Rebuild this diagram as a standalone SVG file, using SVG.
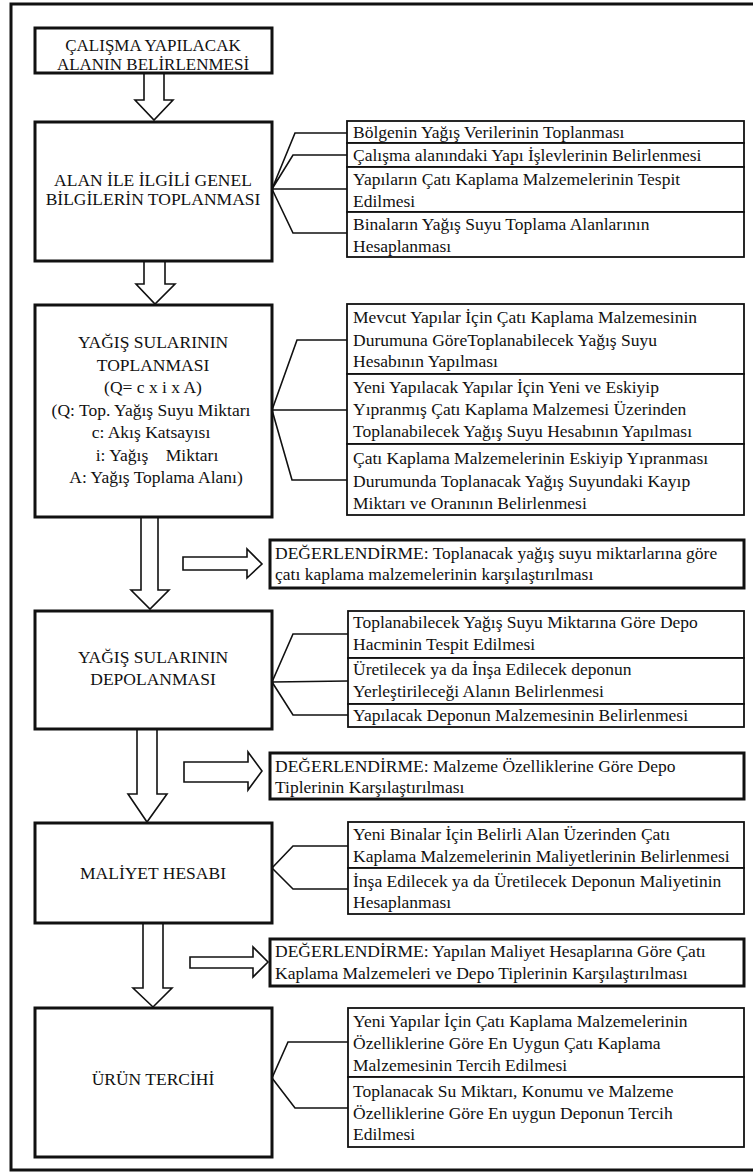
<svg xmlns="http://www.w3.org/2000/svg" width="753" height="1173" viewBox="0 0 753 1173">
<style>
text{font-family:"Liberation Serif","Times New Roman",serif;font-size:17.5px;fill:#111}
.c{text-anchor:middle}
.t1{font-size:17px}
.main{fill:#fff;stroke:#111;stroke-width:3}
.sub{fill:#fff;stroke:#111;stroke-width:1.8}
.eval{fill:#fff;stroke:#111;stroke-width:3}
.arrow{fill:#fff;stroke:#111;stroke-width:1.6;stroke-linejoin:miter}
.conn{fill:none;stroke:#111;stroke-width:1.6}
.frame{fill:none;stroke:#111;stroke-width:3}
</style>
<rect class="frame" x="11" y="4" width="750" height="1166"/>

<g id="connectors">
  <path class="conn" d="M272,189 L295,133 L347,133 M272,189 L293,155 L347,155 M272,189 L347,189 M272,189 L293,233 L347,233"/>
  <path class="conn" d="M272,410 L297,340 L347,340 M272,410 L347,410 M272,410 L292,480 L347,480"/>
  <path class="conn" d="M272,682 L293,634 L348,634 M272,682 L348,681 M272,682 L293,715 L348,715"/>
  <path class="conn" d="M272,868 L293,846 L348,846 M272,868 L293,889 L348,889"/>
  <path class="conn" d="M272,1078 L288,1042 L348,1042 M272,1078 L295,1108 L348,1108"/>
  <path id="a1" class="arrow" d="M144,73 L164,73 L164,100 L173,100 L154,120 L135,100 L144,100 Z"/>
  <path id="a2" class="arrow" d="M144,261 L165,261 L165,284 L175,284 L155,304 L136,284 L144,284 Z"/>
  <path id="a3" class="arrow" d="M141,517 L158,517 L158,590 L169,590 L150,609 L131,590 L141,590 Z"/>
  <path id="a4" class="arrow" d="M137,729 L157,729 L157,794 L167,794 L147,822 L128,794 L137,794 Z"/>
  <path id="a5" class="arrow" d="M143,923 L163,923 L163,988 L172,988 L153,1007 L133,988 L143,988 Z"/>
  <path id="s1" class="arrow" d="M183,557 L247,557 L247,549 L262,564 L247,578 L247,570 L183,570 Z"/>
  <path id="s2" class="arrow" d="M184,762 L248,762 L248,752 L262,771 L248,790 L248,782 L184,782 Z"/>
  <path id="s3" class="arrow" d="M190,957 L253,957 L253,947 L268,962 L253,977 L253,968 L190,968 Z"/>
</g>

<g id="n1">
  <rect class="main" x="35" y="28" width="237" height="45"/>
  <text class="c t1" x="153" y="50.5">ÇALIŞMA YAPILACAK</text>
  <text class="c t1" x="153" y="70">ALANIN BELİRLENMESİ</text>
</g>

<g id="n2">
  <rect class="main" x="35" y="122" width="237" height="139"/>
  <text class="c" x="153" y="186">ALAN İLE İLGİLİ GENEL</text>
  <text class="c" x="153" y="205">BİLGİLERİN TOPLANMASI</text>
</g>

<g id="n2-subs">
  <rect class="sub" x="347" y="121" width="397" height="22"/>
  <text x="353" y="138">Bölgenin Yağış Verilerinin Toplanması</text>
  <rect class="sub" x="347" y="143" width="397" height="24"/>
  <text x="353" y="161">Çalışma alanındaki Yapı İşlevlerinin Belirlenmesi</text>
  <rect class="sub" x="347" y="167" width="397" height="45"/>
  <text x="353" y="185">Yapıların Çatı Kaplama Malzemelerinin Tespit</text>
  <text x="353" y="207">Edilmesi</text>
  <rect class="sub" x="347" y="212" width="397" height="45"/>
  <text x="353" y="230">Binaların Yağış Suyu Toplama Alanlarının</text>
  <text x="353" y="252">Hesaplanması</text>
</g>

<g id="n3">
  <rect class="main" x="35" y="305" width="237" height="212"/>
  <text class="c" x="153" y="348">YAĞIŞ SULARININ</text>
  <text class="c" x="153" y="370.5">TOPLANMASI</text>
  <text class="c" x="153" y="393">(Q= c x i x A)</text>
  <text class="c" x="151" y="415.5">(Q: Top. Yağış Suyu Miktarı</text>
  <text class="c" x="151" y="438">c: Akış Katsayısı</text>
  <text class="c" x="157" y="460.5" xml:space="preserve">i: Yağış    Miktarı</text>
  <text class="c" x="156" y="483">A: Yağış Toplama Alanı)</text>
</g>

<g id="n3-subs">
  <rect class="sub" x="347" y="304" width="397" height="70"/>
  <text x="353" y="323">Mevcut Yapılar İçin Çatı Kaplama Malzemesinin</text>
  <text x="353" y="346">Durumuna GöreToplanabilecek Yağış Suyu</text>
  <text x="353" y="367">Hesabının Yapılması</text>
  <rect class="sub" x="347" y="374" width="397" height="70"/>
  <text x="353" y="393">Yeni Yapılacak Yapılar İçin Yeni ve Eskiyip</text>
  <text x="353" y="415">Yıpranmış Çatı Kaplama Malzemesi Üzerinden</text>
  <text x="353" y="437">Toplanabilecek Yağış Suyu Hesabının Yapılması</text>
  <rect class="sub" x="347" y="444" width="397" height="71"/>
  <text x="353" y="464">Çatı Kaplama Malzemelerinin Eskiyip Yıpranması</text>
  <text x="353" y="487">Durumunda Toplanacak Yağış Suyundaki Kayıp</text>
  <text x="353" y="509">Miktarı ve Oranının Belirlenmesi</text>
</g>

<g id="e1">
  <rect class="eval" x="270" y="540" width="474" height="48"/>
  <text x="275" y="559">DEĞERLENDİRME: Toplanacak yağış suyu miktarlarına göre</text>
  <text x="275" y="580">çatı kaplama malzemelerinin karşılaştırılması</text>
</g>

<g id="n4">
  <rect class="main" x="35" y="611" width="237" height="118"/>
  <text class="c" x="153" y="663">YAĞIŞ SULARININ</text>
  <text class="c" x="153" y="685">DEPOLANMASI</text>
</g>

<g id="n4-subs">
  <rect class="sub" x="348" y="611" width="396" height="47"/>
  <text x="353" y="628">Toplanabilecek Yağış Suyu Miktarına Göre Depo</text>
  <text x="353" y="650">Hacminin Tespit Edilmesi</text>
  <rect class="sub" x="348" y="658" width="396" height="46"/>
  <text x="353" y="675">Üretilecek ya da İnşa Edilecek deponun</text>
  <text x="353" y="697">Yerleştirileceği Alanın Belirlenmesi</text>
  <rect class="sub" x="348" y="704" width="396" height="23"/>
  <text x="353" y="721">Yapılacak Deponun Malzemesinin Belirlenmesi</text>
</g>

<g id="e2">
  <rect class="eval" x="270" y="753" width="474" height="46"/>
  <text x="275" y="772">DEĞERLENDİRME: Malzeme Özelliklerine Göre Depo</text>
  <text x="275" y="793">Tiplerinin Karşılaştırılması</text>
</g>

<g id="n5">
  <rect class="main" x="35" y="823" width="237" height="100"/>
  <text class="c" x="153" y="879">MALİYET HESABI</text>
</g>

<g id="n5-subs">
  <rect class="sub" x="348" y="822" width="396" height="46"/>
  <text x="353" y="840">Yeni Binalar İçin Belirli Alan Üzerinden Çatı</text>
  <text x="353" y="862">Kaplama Malzemelerinin Maliyetlerinin Belirlenmesi</text>
  <rect class="sub" x="348" y="868" width="396" height="46"/>
  <text x="353" y="887">İnşa Edilecek ya da Üretilecek Deponun Maliyetinin</text>
  <text x="353" y="908">Hesaplanması</text>
</g>

<g id="e3">
  <rect class="eval" x="270" y="939" width="474" height="47"/>
  <text x="275" y="957">DEĞERLENDİRME: Yapılan Maliyet Hesaplarına Göre Çatı</text>
  <text x="275" y="979">Kaplama Malzemeleri ve Depo Tiplerinin Karşılaştırılması</text>
</g>

<g id="n6">
  <rect class="main" x="35" y="1008" width="237" height="149"/>
  <text class="c" x="153" y="1085">ÜRÜN TERCİHİ</text>
</g>

<g id="n6-subs">
  <rect class="sub" x="348" y="1008" width="396" height="69"/>
  <text x="353" y="1027">Yeni Yapılar İçin Çatı Kaplama Malzemelerinin</text>
  <text x="353" y="1049">Özelliklerine Göre En Uygun Çatı Kaplama</text>
  <text x="353" y="1071">Malzemesinin Tercih Edilmesi</text>
  <rect class="sub" x="348" y="1077" width="396" height="70"/>
  <text x="353" y="1097">Toplanacak Su Miktarı, Konumu ve Malzeme</text>
  <text x="353" y="1119">Özelliklerine Göre En uygun Deponun Tercih</text>
  <text x="353" y="1140">Edilmesi</text>
</g>
</svg>
